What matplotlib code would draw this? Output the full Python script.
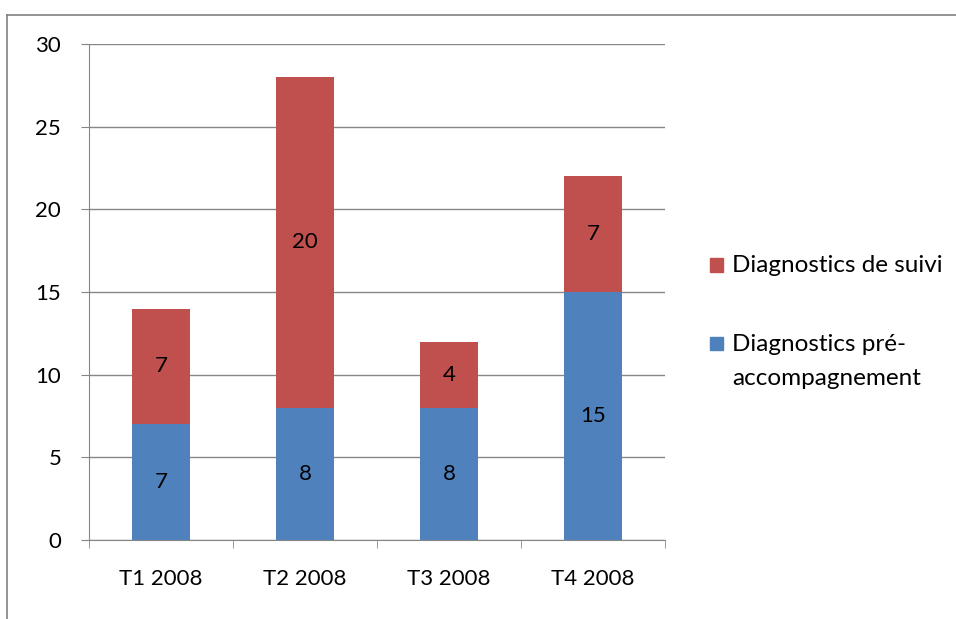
import matplotlib
matplotlib.use("Agg")
import matplotlib.pyplot as plt
from matplotlib.lines import Line2D
from matplotlib.patches import Rectangle

categories = ["T1 2008", "T2 2008", "T3 2008", "T4 2008"]
pre_accomp = [7, 8, 8, 15]
suivi = [7, 20, 4, 7]
series_names = ["Diagnostics de suivi", "Diagnostics pré-\naccompagnement"]
yticks = [0, 5, 10, 15, 20, 25, 30]

BLUE = "#4F81BD"
RED = "#C0504D"
FONT = ["Lato", "DejaVu Sans"]
plt.rcParams['font.family'] = FONT
FS = 16
W, H = 956, 619

fig = plt.figure(figsize=(W/100, H/100), dpi=100)
ax = fig.add_axes([89/W, 1-540/H, (665-89)/W, (540-44)/H])

x = list(range(len(categories)))
b1 = ax.bar(x, pre_accomp, width=0.4, color=BLUE, zorder=3)
b2 = ax.bar(x, suivi, width=0.4, bottom=pre_accomp, color=RED, zorder=3)
ax.bar_label(b1, labels=[str(v) for v in pre_accomp], label_type='center', fontsize=FS, color='black')
ax.bar_label(b2, labels=[str(v) for v in suivi], label_type='center', fontsize=FS, color='black')

ax.set_xlim(-0.5, len(categories) - 0.5)
ax.set_ylim(0, 30)
ax.set_yticks(yticks)
ax.set_yticklabels([str(t) for t in yticks], fontsize=FS)
ax.yaxis.grid(True, color="#868686", linewidth=1, zorder=0)
ax.set_axisbelow(True)

ax.set_xticks(x)
ax.set_xticklabels(categories, fontsize=FS)
ax.tick_params(axis='x', length=0, pad=21)
ax.set_xticks([i - 0.5 for i in range(len(categories) + 1)], minor=True)
ax.tick_params(axis='x', which='minor', length=6, direction='out', color="#868686")
ax.tick_params(axis='y', length=6, direction='out', color="#868686", pad=14)

for s in ['top', 'right']:
    ax.spines[s].set_visible(False)
for s in ['left', 'bottom']:
    ax.spines[s].set_color("#868686")

# outer chart border
fig.add_artist(Line2D([7/W, 7/W], [0, 1-15/H], transform=fig.transFigure, color="#808080", lw=1.2))
fig.add_artist(Line2D([7/W, 1], [1-15/H, 1-15/H], transform=fig.transFigure, color="#808080", lw=1.2))

# legend (drawn manually to match the original layout)
legend_items = [(series_names[0], RED, 265, 265), (series_names[1], BLUE, 343, 361.5)]
for name, col, sq_y, txt_y in legend_items:
    fig.add_artist(Rectangle((710/W, 1-(sq_y+6.5)/H), 13/W, 13/H,
                             transform=fig.transFigure, color=col))
    fig.text(732/W, 1-txt_y/H, name, fontsize=17.5, va='center', ha='left',
             linespacing=1.8)

fig.savefig("out.png", dpi=100)
